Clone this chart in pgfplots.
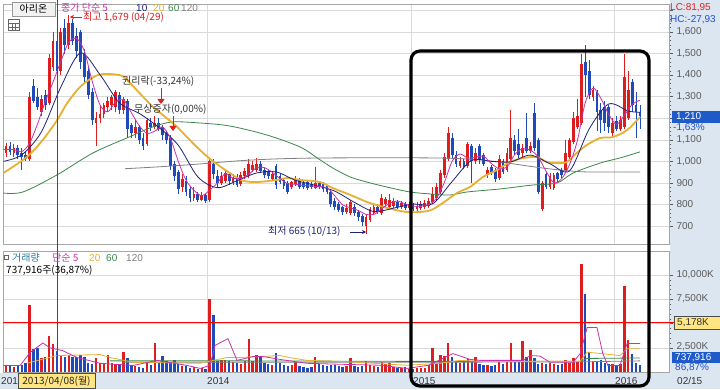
\documentclass[border=0pt]{standalone}
\usepackage{pgfplots}
\pgfplotsset{compat=1.18}
\usepackage{pgfplotstable}
\usepackage{fontspec}
\setmainfont{Liberation Sans}
\newfontfamily\kr{Noto Sans CJK KR}
\usetikzlibrary{arrows.meta}
\definecolor{cred}{RGB}{222,30,30}
\definecolor{cblue}{RGB}{30,75,185}
\definecolor{ma5}{RGB}{200,50,170}
\definecolor{ma10}{RGB}{30,35,120}
\definecolor{ma20}{RGB}{232,176,48}
\definecolor{ma60}{RGB}{60,135,75}
\definecolor{ma120}{RGB}{128,128,128}
\definecolor{gridc}{RGB}{218,218,218}
\definecolor{panel}{RGB}{220,230,241}
\definecolor{labc}{RGB}{90,90,90}
\definecolor{boxblue}{RGB}{30,90,200}
\definecolor{boxyel}{RGB}{255,230,130}
\definecolor{txtblue}{RGB}{32,80,200}
\definecolor{teal}{RGB}{40,125,160}
\newcommand\fs{\fontsize{10}{12}\selectfont}

% rising candles: per week, row 1 = (low, open), row 2 = (high, close)
\pgfplotstableread{
i w b
0 1020 1040
0 1085 1070
0 nan nan
2 1020 1040
2 1080 1060
2 nan nan
6 1000 1010
6 1320 1300
6 nan nan
9 1210 1230
9 1310 1290
9 nan nan
11 1260 1270
11 1500 1480
11 nan nan
12 1420 1440
12 1600 1560
12 nan nan
14 1400 1420
14 1620 1600
14 nan nan
16 1520 1540
16 1679 1640
16 nan nan
23 1070 1180
23 1230 1200
23 nan nan
24 1180 1200
24 1260 1220
24 nan nan
25 1200 1220
25 1270 1260
25 nan nan
26 1230 1250
26 1300 1280
26 nan nan
27 1240 1260
27 1310 1300
27 nan nan
28 1230 1250
28 1330 1320
28 nan nan
30 1220 1240
30 1300 1290
30 nan nan
33 1110 1130
33 1190 1160
33 nan nan
36 1070 1080
36 1200 1190
36 nan nan
38 1150 1160
38 1210 1180
38 nan nan
45 860 880
45 940 920
45 nan nan
48 815 830
48 880 850
48 nan nan
50 815 820
50 860 845
50 nan nan
52 810 820
52 1015 1000
52 nan nan
55 890 900
55 950 930
55 nan nan
56 900 910
56 960 945
56 nan nan
58 890 905
58 940 925
58 nan nan
60 885 895
60 950 935
60 nan nan
61 920 930
61 970 955
61 nan nan
62 925 935
62 1010 990
62 nan nan
63 950 960
63 1000 985
63 nan nan
64 950 960
64 1015 990
64 nan nan
68 910 920
68 955 940
68 nan nan
73 870 880
73 910 905
73 nan nan
74 885 895
74 930 915
74 nan nan
79 870 875
79 975 900
79 nan nan
87 755 765
87 800 785
87 nan nan
88 750 760
88 820 810
88 nan nan
92 665 700
92 750 740
92 nan nan
93 720 730
93 790 780
93 nan nan
94 750 760
94 800 790
94 nan nan
96 750 760
96 850 830
96 nan nan
97 790 800
97 835 825
97 nan nan
98 785 790
98 850 820
98 nan nan
99 785 795
99 830 815
99 nan nan
101 780 790
101 815 805
101 nan nan
103 775 785
103 810 800
103 nan nan
105 770 780
105 810 795
105 nan nan
106 775 785
106 815 800
106 nan nan
107 780 790
107 820 805
107 nan nan
108 785 795
108 830 815
108 nan nan
109 800 810
109 880 850
109 nan nan
110 820 830
110 900 880
110 nan nan
111 850 860
111 960 945
111 nan nan
112 925 935
112 1040 1020
112 nan nan
113 1000 1010
113 1160 1130
113 nan nan
116 970 980
116 1020 1000
116 nan nan
118 970 980
118 1090 1080
118 nan nan
120 990 1000
120 1060 1040
120 nan nan
123 925 935
123 975 960
123 nan nan
126 915 925
126 1030 1010
126 nan nan
128 950 960
128 1060 1040
128 nan nan
129 1000 1010
129 1240 1110
129 nan nan
132 1020 1040
132 1080 1060
132 nan nan
134 1040 1050
134 1090 1070
134 nan nan
137 770 780
137 910 900
137 nan nan
139 870 880
139 945 930
139 nan nan
140 865 875
140 945 935
140 nan nan
143 950 960
143 1100 1040
143 nan nan
144 1010 1020
144 1110 1100
144 nan nan
145 1080 1090
145 1230 1200
145 nan nan
146 1150 1160
146 1290 1210
146 nan nan
147 1170 1180
147 1500 1450
147 nan nan
150 1280 1300
150 1350 1330
150 nan nan
155 1110 1130
155 1200 1180
155 nan nan
157 1140 1150
157 1210 1190
157 nan nan
158 1150 1160
158 1500 1390
158 nan nan
159 1190 1200
159 1420 1330
159 nan nan
}\candup

% falling candles: row 1 = (low, close), row 2 = (high, open)
\pgfplotstableread{
i w b
1 1030 1045
1 1090 1070
1 nan nan
3 1010 1030
3 1075 1060
3 nan nan
4 960 1020
4 1060 1040
4 nan nan
5 1000 1010
5 1050 1030
5 nan nan
7 1270 1280
7 1380 1350
7 nan nan
8 1240 1250
8 1340 1300
8 nan nan
10 1240 1260
10 1330 1310
10 nan nan
13 1380 1420
13 1600 1560
13 nan nan
15 1500 1540
15 1660 1620
15 nan nan
17 1540 1560
17 1660 1640
17 nan nan
18 1480 1510
18 1620 1580
18 nan nan
19 1430 1460
19 1610 1600
19 nan nan
20 1360 1390
20 1520 1500
20 nan nan
21 1290 1310
21 1440 1420
21 nan nan
22 1170 1190
22 1340 1320
22 nan nan
29 1220 1240
29 1320 1310
29 nan nan
31 1110 1150
31 1290 1280
31 nan nan
32 1110 1130
32 1180 1170
32 nan nan
34 1080 1100
34 1170 1160
34 nan nan
35 1055 1070
35 1130 1110
35 nan nan
37 1140 1160
37 1200 1180
37 nan nan
39 1140 1150
39 1200 1180
39 nan nan
40 1100 1120
40 1170 1160
40 nan nan
41 1080 1100
41 1140 1130
41 nan nan
42 960 980
42 1120 1110
42 nan nan
43 910 930
43 1000 990
43 nan nan
44 850 870
44 960 950
44 nan nan
46 840 860
46 930 910
46 nan nan
47 810 830
47 880 870
47 nan nan
49 810 820
49 860 850
49 nan nan
51 805 815
51 850 845
51 nan nan
53 920 940
53 1010 990
53 nan nan
54 880 900
54 960 930
54 nan nan
57 890 910
57 950 940
57 nan nan
59 880 890
59 940 925
59 nan nan
65 945 955
65 1000 990
65 nan nan
66 925 935
66 970 960
66 nan nan
67 920 930
67 960 950
67 nan nan
69 870 890
69 990 980
69 nan nan
70 895 905
70 940 930
70 nan nan
71 870 885
71 925 915
71 nan nan
72 850 860
72 910 900
72 nan nan
75 870 880
75 925 915
75 nan nan
76 870 880
76 910 900
76 nan nan
77 865 875
77 915 905
77 nan nan
78 870 880
78 905 895
78 nan nan
80 870 880
80 910 900
80 nan nan
81 860 870
81 905 895
81 nan nan
82 850 860
82 890 885
82 nan nan
83 790 800
83 870 860
83 nan nan
84 775 790
84 830 815
84 nan nan
85 765 775
85 810 800
85 nan nan
86 750 765
86 795 790
86 nan nan
89 745 760
89 800 790
89 nan nan
90 725 740
90 775 765
90 nan nan
91 700 720
91 755 745
91 nan nan
95 755 765
95 800 790
95 nan nan
100 780 790
100 820 810
100 nan nan
102 775 785
102 810 800
102 nan nan
104 770 780
104 805 795
104 nan nan
114 1010 1030
114 1130 1110
114 nan nan
115 975 990
115 1050 1030
115 nan nan
117 965 975
117 1010 1000
117 nan nan
119 900 1000
119 1080 1070
119 nan nan
121 990 1010
121 1080 1070
121 nan nan
122 980 990
122 1040 1030
122 nan nan
124 935 950
124 985 975
124 nan nan
125 905 920
125 970 960
125 nan nan
127 940 950
127 1010 1000
127 nan nan
130 1030 1050
130 1120 1100
130 nan nan
131 1010 1030
131 1150 1080
131 nan nan
133 1040 1050
133 1225 1110
133 nan nan
135 1050 1060
135 1270 1225
135 nan nan
136 850 860
136 1110 1100
136 nan nan
138 870 880
138 950 940
138 nan nan
141 905 920
141 950 945
141 nan nan
142 925 935
142 970 960
142 nan nan
148 1300 1400
148 1540 1460
148 nan nan
149 1290 1310
149 1470 1420
149 nan nan
151 1140 1230
151 1330 1320
151 nan nan
152 1130 1190
152 1270 1240
152 nan nan
153 1140 1180
153 1280 1250
153 nan nan
154 1130 1160
154 1260 1250
154 nan nan
156 1140 1150
156 1210 1185
156 nan nan
160 1230 1260
160 1380 1370
160 nan nan
161 1110 1230
161 1320 1260
161 nan nan
162 1150 1210
162 1260 1230
162 nan nan
}\canddown

% weekly volume (thousand shares), rising weeks
\pgfplotstableread{
i V
0 700
2 550
6 6900
9 1400
11 3700
12 2900
14 1800
16 1800
23 1400
24 900
25 800
26 1800
27 900
28 800
30 2100
33 600
36 1000
38 2950
45 600
48 500
50 400
52 7550
55 1200
56 1200
58 1000
60 800
61 1100
62 3450
63 1100
64 1800
68 700
73 700
74 1000
79 1500
87 600
88 1400
92 1100
93 700
94 600
96 1000
97 800
98 900
99 500
101 400
103 350
105 400
106 400
107 450
108 700
109 2500
110 900
111 1800
112 1700
113 2950
116 900
118 1300
120 1500
123 700
126 1000
128 1100
129 2950
132 3250
134 2300
137 900
139 900
140 800
143 1200
144 900
145 1400
146 1000
147 11200
150 1100
155 800
157 800
158 8900
159 3350
}\volup

% weekly volume, falling weeks
\pgfplotstableread{
i V
1 600
3 650
4 700
5 900
7 2400
8 2500
10 1600
13 2200
15 1500
17 1500
18 1600
19 1800
20 1500
21 900
22 800
29 800
31 1400
32 700
34 500
35 450
37 700
39 900
40 1700
41 1100
42 1000
43 1200
44 800
46 600
47 400
49 350
51 350
53 5850
54 1100
57 1100
59 900
65 1600
66 900
67 800
69 2000
70 900
71 700
72 600
75 600
76 500
77 450
78 500
80 800
81 700
82 600
83 700
84 700
85 600
86 500
89 600
90 500
91 600
95 500
100 450
102 500
104 300
114 1600
115 1000
117 1000
119 1100
121 800
122 700
124 600
125 700
127 800
130 1000
131 1000
133 1500
135 1400
136 800
138 800
141 700
142 800
148 8100
149 2050
151 1100
152 1200
153 900
154 800
156 700
160 1900
161 900
162 738
}\voldown

\begin{document}
\begin{tikzpicture}[x=1pt,y=1pt]
\fill[white] (0,0) rectangle (720,389);
\fill[panel] (670,0) rectangle (720,389);
\fill[panel] (0,0) rectangle (720,16);

% ---------------- price panel
\begin{axis}[
  at={(3pt,145pt)}, anchor=south west, scale only axis,
  width=666pt, height=240pt,
  xmin=-0.79, xmax=169.41, ymin=616.7, ymax=1729.9,
  axis line style={draw=black!35, line width=0.6pt},
  xtick={51.5,103.5,155.5}, xticklabels={}, xmajorgrids,
  ytick={700,800,...,1700},
  yticklabels={700,800,900,{1,000},{1,100},{1,200},{1,300},{1,400},{1,500},{1,600},{}},
  ymajorgrids, major grid style={draw=gridc, line width=0.6pt},
  ytick pos=right, yticklabel pos=right, tick align=outside,
  major tick length=4pt, minor y tick num=4, minor tick length=2pt,
  y tick style={draw=labc, line width=0.5pt}, x tick style={draw=none},
  yticklabel style={font=\fs, text=labc},
  unbounded coords=jump,
]
% wicks
\addplot[cred, line width=0.9pt] table[x=i, y=w] {\candup};
\addplot[cblue, line width=0.9pt] table[x=i, y=w] {\canddown};
% bodies
\addplot[cred, line width=2.8pt, line cap=butt] table[x=i, y=b] {\candup};
\addplot[cblue, line width=2.8pt, line cap=butt] table[x=i, y=b] {\canddown};
% 120
\addplot[ma120, line width=0.8pt, smooth] coordinates {(30.4,966)(39.3,975)(49.5,988)(59.8,1003)(70,1012)(82.8,1016)(108.3,1016)(118.6,1010)(126.2,997)(134.7,975)(141.5,960)(148.4,951)(162,951)};
% 60
\addplot[ma60, line width=0.8pt, smooth] coordinates {(-0.7,853)(4.3,858)(13,937)(22.2,1039)(31.7,1115)(37.5,1160)(42.6,1183)(49.5,1178)(57.2,1164)(66.7,1122)(75.1,1067)(79.5,1016)(83.5,969)(87.9,928)(92.2,904)(97.3,881)(103.2,858)(108.3,849)(113.4,844)(117.8,858)(126.2,872)(134.4,890)(140.8,900)(144.9,946)(151.8,992)(156.9,1016)(162,1044)};
% 20
\addplot[ma20, line width=1.8pt, smooth] coordinates {(-0.7,946)(5.3,1020)(9.4,1100)(13,1190)(15.6,1270)(18.9,1345)(22.2,1390)(24.8,1405)(29.1,1400)(30.9,1378)(34.2,1315)(37.5,1253)(41.1,1200)(43.7,1160)(46.2,1113)(49.5,1053)(52.9,1000)(58,936)(60.5,910)(64.1,904)(69.2,914)(71.8,923)(75.1,914)(80.2,904)(83.5,876)(87.9,845)(92.2,812)(96.3,789)(100.7,770)(104,764)(108.3,772)(111.6,807)(115.2,853)(118.6,882)(121.9,928)(125.5,960)(128.8,997)(132.1,1015)(135.7,1020)(138.2,997)(140.8,992)(143.3,997)(145.9,1040)(148.4,1076)(151.8,1108)(155.1,1113)(158.7,1145)(162,1206)};
% 10
\addplot[ma10, line width=0.8pt, smooth] coordinates {(-0.7,1000)(4,1030)(9,1136)(14,1345)(19,1503)(24,1402)(29,1271)(34,1223)(39,1158)(44,1075)(49,928)(54,878)(59,910)(64,946)(69,951)(74,912)(79,889)(84,862)(89,810)(94,767)(99,783)(104,802)(109,803)(114,907)(119,1005)(124,1000)(129,998)(134,1029)(139,989)(144,956)(149,1150)(154,1266)(159,1233)(162,1228)};
% 5
\addplot[ma5, line width=0.8pt, smooth] coordinates {(-0.7,1055)(2,1055)(4,1045)(6,1084)(8,1172)(10,1276)(12,1368)(14,1464)(16,1552)(18,1570)(20,1512)(22,1372)(24,1262)(26,1230)(28,1276)(30,1286)(32,1226)(34,1166)(36,1130)(38,1140)(40,1160)(42,1106)(44,1000)(46,912)(48,866)(50,841)(52,866)(54,900)(56,943)(58,922)(60,921)(62,939)(64,971)(66,971)(68,950)(70,920)(72,896)(74,894)(76,888)(78,886)(80,883)(82,878)(84,840)(86,798)(88,785)(90,772)(92,754)(94,754)(96,781)(98,806)(100,816)(102,803)(104,792)(106,792)(108,799)(110,830)(112,902)(114,1001)(116,1034)(118,1015)(120,1019)(122,1024)(124,990)(126,966)(128,974)(130,1032)(132,1058)(134,1052)(136,1020)(138,954)(140,901)(142,920)(144,986)(146,1097)(148,1272)(150,1340)(152,1292)(154,1218)(156,1172)(158,1214)(160,1264)(162,1284)};
\end{axis}

% ---------------- volume panel
\begin{axis}[
  at={(3pt,17pt)}, anchor=south west, scale only axis,
  width=666pt, height=121pt,
  xmin=-0.79, xmax=169.41, ymin=0, ymax=12500,
  axis line style={draw=black!35, line width=0.6pt},
  xtick={51.5,103.5,155.5}, xticklabels={}, xmajorgrids,
  ytick={2500,5000,7500,10000}, yticklabels={{2,500K},{},{7,500K},{10,000K}},
  scaled y ticks=false,
  ymajorgrids, major grid style={draw=gridc, line width=0.6pt},
  ytick pos=right, yticklabel pos=right, tick align=outside,
  major tick length=4pt, minor y tick num=4, minor tick length=2pt,
  y tick style={draw=labc, line width=0.5pt}, x tick style={draw=none},
  yticklabel style={font=\fs, text=labc, yshift=1pt},
]
\addplot[ycomb, cred, line width=2.4pt, mark=none] table[x=i, y=V] {\volup};
\addplot[ycomb, cblue, line width=2.4pt, mark=none] table[x=i, y=V] {\voldown};
\addplot[ma120, line width=0.8pt] coordinates {(30,1000)(100,1000)(146.7,1050)(162,1150)};
\addplot[ma60, line width=0.8pt] coordinates {(26.6,1150)(60,1150)(100,1100)(146.7,1100)(148.5,1400)(162,1450)};
\addplot[ma20, line width=0.8pt] coordinates {(5.3,900)(13,1700)(24,1800)(26.6,1500)(32.5,1000)(49.6,900)(52.9,1200)(56.5,1500)(59.8,1500)(70,1700)(72.4,1500)(76.9,1200)(85.3,1100)(102.5,700)(110.9,900)(116,1200)(121.1,1100)(138.2,1100)(146.7,1100)(148.5,2050)(156.9,1700)(158.7,2400)(162,2400)};
\addplot[ma5, line width=0.8pt] coordinates {(-0.7,680)(3.6,680)(6.1,2000)(9.4,3000)(11.2,2500)(14.5,2200)(18.1,1500)(24,900)(32.5,680)(38.6,1200)(46.2,680)(49.6,370)(52.1,680)(53.4,2750)(56.7,3450)(59,1200)(63.1,1600)(65.7,1600)(70,1300)(76.9,900)(85.3,800)(95.5,700)(102.5,370)(108,700)(114.2,1900)(118.6,1300)(121.1,1200)(132.1,1200)(133.9,1700)(136.4,1650)(139,1000)(144.9,1000)(146.7,1900)(148.5,4600)(151,4600)(152.5,1900)(153.8,680)(156.9,680)(158.7,2950)(162,2950)};
\end{axis}

% ---------------- annotations
\draw[red, line width=0.6pt] (3,67.1) -- (674,67.1);
\draw[red, line width=0.8pt] (57,14) -- (57,389);

% price panel title
\draw[black!40, fill=black!5] (12,373) rectangle (55,387);
\node[font=\kr\fs, text=black] at (33.5,380) {아리온};
\draw[black!60, line width=0.5pt] (8,359) rectangle (19,370);
\draw[black!60, line width=0.4pt] (8,365.5) -- (19,365.5) (8,362) -- (19,362) (11.7,359) -- (11.7,366) (15.3,359) -- (15.3,366);
\node[anchor=west, font=\kr\fs, text=ma5, inner sep=0pt] at (61,381) {종가 단순 5};
\node[anchor=west, font=\fs, text=ma10, inner sep=0pt] at (136,381) {10};
\node[anchor=west, font=\fs, text=ma20, inner sep=0pt] at (153,381) {20};
\node[anchor=west, font=\fs, text=ma60, inner sep=0pt] at (168,381) {60};
\node[anchor=west, font=\fs, text=ma120, inner sep=0pt] at (181,381) {120};

\draw[cred, line width=0.8pt, -{Stealth[length=4pt,width=4pt]}] (82,372) -- (70,372);
\node[anchor=west, font=\kr\fs, text=cred, inner sep=0pt] at (83,372) {최고 1,679 (04/29)};

\node[anchor=west, font=\kr\fs, text=black!80, inner sep=0pt] at (122,308) {권리락(-33,24\%)};
\node[anchor=west, font=\kr\fs, text=black!80, inner sep=0pt] at (134,280) {무상증자(0,00\%)};
\draw[cred, line width=0.8pt, -{Triangle[length=5pt,width=7pt]}] (161,301) -- (161,285);
\draw[cred, line width=0.8pt, -{Triangle[length=5pt,width=7pt]}] (173,273) -- (173,258);

\node[anchor=west, font=\kr\fs, text=ma10, inner sep=0pt] at (268,158) {최저 665 (10/13)};
\draw[ma10, line width=0.8pt, -{Stealth[length=4pt,width=4pt]}] (350,157) -- (366,157);

% right panel labels
\node[anchor=west, font=\fs, text=cred, inner sep=0pt] at (670,381) {LC:81,95};
\node[anchor=west, font=\fs, text=txtblue, inner sep=0pt] at (670,369.5) {HC:-27,93};
\fill[boxblue] (672,266) rectangle (720,278);
\node[anchor=west, font=\fs, text=white, inner sep=0pt] at (676,272) {1,210};
\node[anchor=west, font=\fs, text=txtblue, inner sep=0pt] at (673,261) {-1,63\%};
\draw[fill=boxyel, draw=black!70, line width=0.5pt] (674,59.5) rectangle (720,72.5);
\node[anchor=west, font=\fs, text=black!80, inner sep=0pt] at (677,66) {5,178K};
\fill[boxblue] (672,26.5) rectangle (720,37);
\node[anchor=west, font=\fs, text=white, inner sep=0pt] at (675,31.8) {737,916};
\node[anchor=west, font=\fs, text=txtblue, inner sep=0pt] at (675,21.5) {86,87\%};

% volume panel title
\draw[black!60, line width=0.5pt] (4.5,129.5) rectangle (8.5,133.5);
\node[anchor=west, font=\kr\fs, text=teal, inner sep=0pt] at (12,131) {거래량};
\node[anchor=west, font=\kr\fs, text=ma5, inner sep=0pt] at (52,131) {단순 5};
\node[anchor=west, font=\fs, text=ma20, inner sep=0pt] at (89,131) {20};
\node[anchor=west, font=\fs, text=ma60, inner sep=0pt] at (106,131) {60};
\node[anchor=west, font=\fs, text=ma120, inner sep=0pt] at (126,131) {120};
\node[anchor=west, font=\kr\fs, text=black, inner sep=0pt] at (6,119) {737,916주(36,87\%)};

% date strip
\node[anchor=west, font=\fs, text=black!80, inner sep=0pt] at (1,8) {201};
\draw[fill=boxyel, draw=black!70, line width=0.5pt] (18.5,0.5) rectangle (95,15.5);
\node[font=\kr\fs, text=black!85, inner sep=0pt] at (56.5,8) {2013/04/08(월)};
\node[anchor=west, font=\fs, text=black!80, inner sep=0pt] at (207,8) {2014};
\node[anchor=west, font=\fs, text=black!80, inner sep=0pt] at (413,8) {2015};
\node[anchor=west, font=\fs, text=black!80, inner sep=0pt] at (615,8) {2016};
\node[anchor=west, font=\fs, text=black!80, inner sep=0pt] at (677,8) {02/15};

% highlight box
\draw[black, line width=3.2pt, rounded corners=9pt] (411,338) rectangle (649,3);

\pgfresetboundingbox
\path (0,0) rectangle (720,389);
\end{tikzpicture}
\end{document}
